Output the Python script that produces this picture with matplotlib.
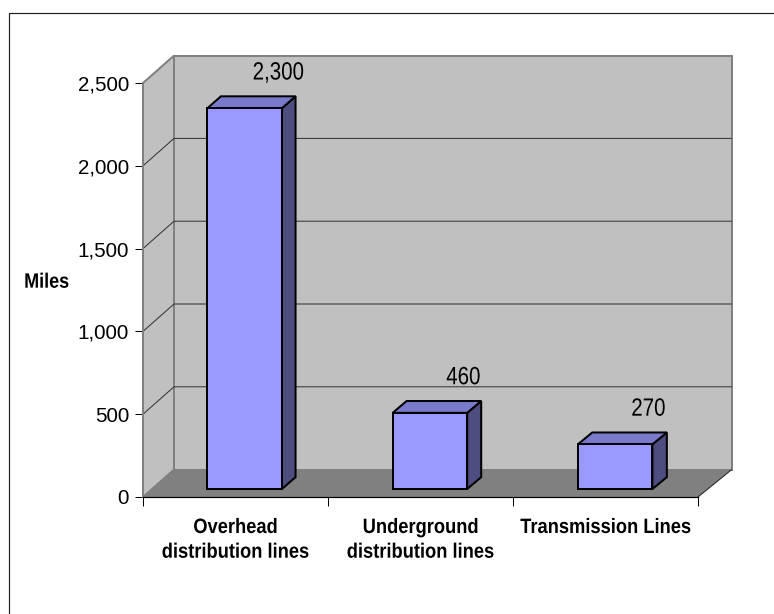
import matplotlib
matplotlib.use("Agg")
import matplotlib.pyplot as plt
from matplotlib import font_manager
from matplotlib.patches import Polygon
from matplotlib.lines import Line2D
from matplotlib.transforms import IdentityTransform, Affine2D
from matplotlib.ticker import FuncFormatter
from matplotlib.patheffects import AbstractPathEffect

# ---- data ----
categories = ["Overhead\ndistribution lines",
              "Underground\ndistribution lines",
              "Transmission Lines"]
miles = [2300, 460, 270]
y_ticks = [0, 500, 1000, 1500, 2000, 2500]
y_label = "Miles"

# ---- figure ----
W, H, DPI = 774, 614, 100
fig = plt.figure(figsize=(W / DPI, H / DPI), dpi=DPI)
fig.patch.set_facecolor("white")

REGULAR = "Liberation Sans"
PX = 0.72  # points per pixel at 100 dpi


class Condensed(AbstractPathEffect):
    """Draw text glyphs horizontally squeezed (narrow face look)."""

    def __init__(self, sx, pivot="center"):
        super().__init__()
        self.sx = sx
        self.pivot = pivot

    def draw_path(self, renderer, gc, tpath, affine, rgbFace=None):
        xs = affine.transform(tpath.vertices)[:, 0]
        if len(xs) == 0:
            return
        px = (xs.min() + xs.max()) / 2 if self.pivot == "center" else xs.max()
        squeeze = Affine2D().translate(-px, 0).scale(self.sx, 1).translate(px, 0)
        renderer.draw_path(gc, tpath, affine + squeeze, rgbFace)


NARROW_FX = [Condensed(0.82)]
BOLD_FX = [Condensed(0.88)]

tick_size = 20.6 * PX
value_size = 25.0 * PX
bold_size = 20.8 * PX

# front plane of the box (pixel geometry)
left_px, right_px, top_px, bottom_px = 143, 698, 83, 497
ax = fig.add_axes([left_px / W, 1 - bottom_px / H,
                   (right_px - left_px) / W, (bottom_px - top_px) / H])
ax.set_xlim(0, len(categories))
ax.set_ylim(y_ticks[0], y_ticks[-1])
ax.patch.set_visible(False)

# depth of the box in pixels (x shift grows slightly to the right)
DEPTH_X0, DEPTH_X1, DEPTH_Y = 31.0, 33.7, 27.4
BAR_D0, BAR_D1 = 0.292, 0.723
BAR_W = 0.402


def to_px(x, y, d):
    X, Y = ax.transData.transform((x, y))
    xa = ax.transAxes.transform((0, 0))[0]
    xb = ax.transAxes.transform((1, 0))[0]
    f = (X - xa) / (xb - xa)
    return (X + d * (DEPTH_X0 + (DEPTH_X1 - DEPTH_X0) * f), Y + d * DEPTH_Y)


def face(pts, fc, ec="none", lw=0.0, z=1.0):
    p = Polygon([to_px(*q) for q in pts], closed=True, facecolor=fc,
                edgecolor=ec, linewidth=lw, joinstyle="miter",
                transform=IdentityTransform(), clip_on=False, zorder=z)
    ax.add_patch(p)


def edge(pts, color, lw, z):
    xy = [to_px(*q) for q in pts]
    ax.add_line(Line2D([p[0] for p in xy], [p[1] for p in xy], color=color,
                       linewidth=lw, transform=IdentityTransform(),
                       clip_on=False, zorder=z, solid_capstyle="butt"))


n = len(categories)
y_top = y_ticks[-1]
WALL, FLOOR, WALL_EDGE = "#c0c0c0", "#808080", "#808080"

# back wall, side wall, floor
face([(0, 0, 1), (n, 0, 1), (n, y_top, 1), (0, y_top, 1)], WALL, WALL_EDGE, 2 * PX, 1.0)
face([(0, 0, 0), (0, 0, 1), (0, y_top, 1), (0, y_top, 0)], WALL, WALL_EDGE, 2 * PX, 1.1)
face([(0, 0, 0), (n, 0, 0), (n, 0, 1), (0, 0, 1)], FLOOR, z=1.2)
edge([(n, 0, 0), (n, 0, 1)], "#202020", 1 * PX, 1.3)

# gridlines on side and back walls
for v in y_ticks[1:-1]:
    edge([(0, v, 0), (0, v, 1), (n, v, 1)], "#303030", 1 * PX, 1.4)

# bars: side, top, front faces
FRONT, TOP, SIDE = "#9999ff", "#7a7acc", "#4d4d80"
for i, v in enumerate(miles):
    xc = i + 0.5
    x0, x1 = xc - BAR_W / 2, xc + BAR_W / 2
    face([(x1, 0, BAR_D0), (x1, 0, BAR_D1), (x1, v, BAR_D1), (x1, v, BAR_D0)],
         SIDE, "black", 2 * PX, 3.0)
    face([(x0, v, BAR_D0), (x1, v, BAR_D0), (x1, v, BAR_D1), (x0, v, BAR_D1)],
         TOP, "black", 2 * PX, 3.1)
    face([(x0, 0, BAR_D0), (x1, 0, BAR_D0), (x1, v, BAR_D0), (x0, v, BAR_D0)],
         FRONT, "black", 2 * PX, 3.2)
    ax.annotate(f"{v:,}", xy=(xc, v), xytext=(43 * PX, 36.6 * PX),
                textcoords="offset points", ha="center", va="baseline",
                fontsize=value_size, family=REGULAR, color="black",
                annotation_clip=False, zorder=4, path_effects=NARROW_FX)

# axes
for s in ("top", "right"):
    ax.spines[s].set_visible(False)
ax.spines["left"].set_color(WALL_EDGE)
ax.spines["left"].set_linewidth(2 * PX)
ax.spines["bottom"].set_color("black")
ax.spines["bottom"].set_linewidth(1.2 * PX)
ax.spines["left"].set_zorder(2)
ax.spines["bottom"].set_zorder(2)

ax.set_yticks(y_ticks)
ax.yaxis.set_major_formatter(FuncFormatter(lambda v, _: f"{int(v):,}"))
ax.tick_params(axis="y", length=8.5 * PX, width=1 * PX, color="black",
               pad=4, labelsize=tick_size, direction="out")
for lab in ax.get_yticklabels():
    lab.set_family(REGULAR)

ax.set_xticks(range(n + 1))
ax.set_xticklabels([])
ax.set_xticks([i + 0.5 for i in range(n)], minor=True)
ax.set_xticklabels(categories, minor=True, fontsize=bold_size,
                   fontweight="bold", family=REGULAR, linespacing=1.38)
for lab in ax.get_xticklabels(minor=True):
    lab.set_path_effects(BOLD_FX)
ax.tick_params(axis="x", which="major", length=9 * PX, width=1 * PX,
               color="black", direction="out")
ax.tick_params(axis="x", which="minor", length=0, pad=21.0 * PX)

fig.text(46.7 / W, 1 - 287.7 / H, y_label, ha="center", va="baseline",
         fontsize=bold_size, fontweight="bold", family=REGULAR,
         path_effects=[Condensed(0.865)])

# chart frame
fig.add_artist(Line2D([8.5 / W, 8.5 / W, 1.0], [0.0, 1 - 12.5 / H, 1 - 12.5 / H],
                      transform=fig.transFigure, color="#222222",
                      linewidth=1.2 * PX))

fig.savefig("out.png", dpi=DPI, facecolor="white")
